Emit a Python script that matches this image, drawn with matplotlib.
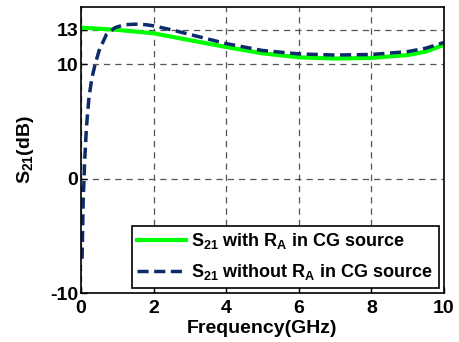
import matplotlib
matplotlib.use("Agg")
import matplotlib.pyplot as plt
import numpy as np

plt.rcParams['font.family'] = ['Liberation Sans']
plt.rcParams['font.weight'] = 'bold'
plt.rcParams['mathtext.fontset'] = 'custom'
plt.rcParams['mathtext.rm'] = 'Liberation Sans:bold'
plt.rcParams['mathtext.it'] = 'Liberation Sans:bold'
plt.rcParams['mathtext.bf'] = 'Liberation Sans:bold'
plt.rcParams['axes.unicode_minus'] = False

# Data
freq_with = [0.0, 0.5, 1.0, 1.5, 2.0, 3.0, 4.0, 5.0, 6.0, 7.0, 8.0, 9.0, 9.5, 10.0]
s21_with = [13.2, 13.1, 13.0, 12.85, 12.7, 12.1, 11.5, 10.95, 10.6, 10.5, 10.55, 10.8, 11.1, 11.7]

freq_without = [0.03, 0.06, 0.1, 0.15, 0.22, 0.3, 0.39, 0.5, 0.7, 0.94, 1.2, 1.5, 1.8, 2.0, 2.5, 3.0,
                4.0, 5.0, 6.0, 7.0, 8.0, 9.0, 9.5, 10.0]
s21_without = [-7.0, -2.0, 1.5, 4.5, 7.1, 8.8, 10.0, 11.2, 12.6, 13.2, 13.45, 13.5, 13.45, 13.35, 13.0,
               12.6, 11.8, 11.2, 10.9, 10.8, 10.85, 11.1, 11.4, 11.9]

xticks = [0, 2, 4, 6, 8, 10]
yticks = [-10, 0, 10, 13]

fig = plt.figure(figsize=(4.6, 3.42), dpi=100)
ax = fig.add_axes([81/460, 1-293/342, (444-81)/460, (293-7)/342])

ax.plot(freq_with, s21_with, color='#00ff00', lw=3,
        label=r'S$_{21}$ with R$_{A}$ in CG source')
ax.plot(freq_without, s21_without, color='#0d2a6b', lw=2.5, ls=(0, (3.2, 1.6)),
        label=r'S$_{21}$ without R$_{A}$ in CG source')

ax.set_xlim(0, 10)
ax.set_ylim(-10, 15)
ax.set_xticks(xticks)
ax.set_yticks(yticks)
ax.tick_params(direction='in', labelsize=14, length=4, width=1, top=False, right=False)
ax.tick_params(axis='y', pad=2)
ax.tick_params(axis='x', pad=5)
for lab in ax.get_xticklabels() + ax.get_yticklabels():
    lab.set_fontweight('bold')
ax.grid(True, color='#555555', ls=(0, (5, 4)), lw=0.9)
for s in ax.spines.values():
    s.set_linewidth(1.2)

ax.set_xlabel('Frequency(GHz)', fontsize=14, fontweight='bold', labelpad=2)
ax.set_ylabel(r'S$_{21}$(dB)', fontsize=14, fontweight='bold', labelpad=10)

leg = ax.legend(loc='lower right', fontsize=13, frameon=True, fancybox=False,
                edgecolor='black', framealpha=1, handlelength=2.7, borderpad=0.3,
                labelspacing=0.6, handletextpad=0.3, borderaxespad=0.3)
leg.get_frame().set_linewidth(1.2)

fig.savefig('out.png', dpi=100)
